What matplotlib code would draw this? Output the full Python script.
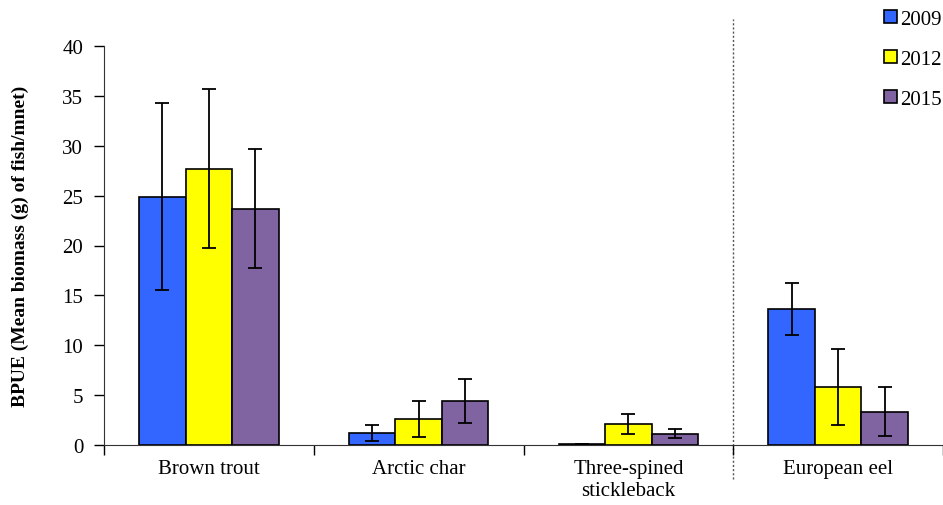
import matplotlib.pyplot as plt
import numpy as np
from matplotlib.patches import Patch

plt.rcParams['font.family'] = ['Liberation Serif', 'DejaVu Serif']

species = ["Brown trout", "Arctic char", "Three-spined\nstickleback", "European eel"]
years = ["2009", "2012", "2015"]
colors = ["#3366FF", "#FFFF00", "#8064A2"]

# mean BPUE per year, one list per year
bpue_2009 = [24.9, 1.2, 0.12, 13.6]
bpue_2012 = [27.7, 2.6, 2.15, 5.8]
bpue_2015 = [23.7, 4.4, 1.13, 3.35]
# error bars
err_2009 = [9.4, 0.8, 0.0, 2.6]
err_2012 = [8.0, 1.8, 1.0, 3.8]
err_2015 = [6.0, 2.2, 0.45, 2.45]

means = [bpue_2009, bpue_2012, bpue_2015]
errs = [err_2009, err_2012, err_2015]

fig = plt.figure(figsize=(9.43, 5.06), dpi=100)
ax = fig.add_axes([104 / 943, 1 - 446 / 506, 1 - 104 / 943, (446 - 47) / 506])

x = np.arange(len(species))
w = 0.222
for i in range(3):
    ax.bar(x + (i - 1) * w, means[i], w, color=colors[i], edgecolor="black",
           linewidth=1.2, zorder=2)
    ax.errorbar(x + (i - 1) * w, means[i], yerr=errs[i], fmt="none",
                ecolor="black", elinewidth=1.3, capsize=5, capthick=1.3, zorder=3)

ax.set_xlim(-0.5, 3.5)
ax.set_ylim(0, 40)
ax.set_yticks(range(0, 41, 5))

ax.set_xticks(np.arange(-0.5, 4, 1))
ax.set_xticklabels([])
ax.set_xticks(x, minor=True)
ax.set_xticklabels(species, minor=True, fontsize=15, linespacing=1.25)
ax.tick_params(axis="x", which="minor", length=0, pad=10)
ax.tick_params(axis="x", which="major", length=7, direction="out", width=1)
ax.tick_params(axis="y", length=7, direction="out", labelsize=15, width=1, pad=8)

for s in ["top", "right"]:
    ax.spines[s].set_visible(False)
ax.spines["left"].set_color("#333333")
ax.spines["bottom"].set_color("#333333")

# dashed separator between freshwater species and eel
ax.plot([2.5, 2.5], [-3.4, 42.7], color="#555555", linestyle=(0, (1.5, 1.5)),
        linewidth=1, clip_on=False, zorder=1)

ax.set_ylabel("BPUE (Mean biomass (g) of fish/mnet)", fontsize=14,
              fontweight="bold")
ax.yaxis.set_label_coords(-75 / 839, 0.5)

handles = [Patch(facecolor=c, edgecolor="black", linewidth=1.2) for c in colors]
fig.legend(handles, years, loc="upper left", bbox_to_anchor=(876 / 943, 0.995),
           frameon=False, fontsize=15, handlelength=0.62, handleheight=0.62,
           handletextpad=0.15, labelspacing=1.0, borderaxespad=0)

fig.savefig("out.png", dpi=100)
